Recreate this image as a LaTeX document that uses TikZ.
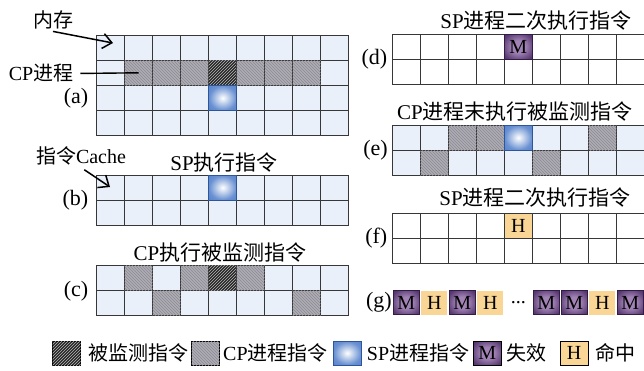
\documentclass[tikz,border=0pt]{standalone}
\usepackage{fontspec}
\setmainfont{Liberation Serif}
\newfontfamily\cjk{Noto Sans CJK SC}
\usetikzlibrary{patterns,arrows.meta}
\newcommand\zhtext[1]{{\cjk #1}}
\definecolor{memfill}{RGB}{234,240,249}
\definecolor{cpgray}{RGB}{174,172,180}
\definecolor{mondark}{RGB}{38,38,38}
\definecolor{gridline}{RGB}{55,55,55}
\definecolor{spblue}{RGB}{80,126,202}
\definecolor{spedge}{RGB}{45,85,155}
\definecolor{mpurple}{RGB}{72,40,98}
\definecolor{mlight}{RGB}{160,130,180}
\definecolor{horange}{RGB}{250,214,150}
\pgfdeclareradialshading{spshade}{\pgfpoint{0bp}{0bp}}{color(0bp)=(white); color(7bp)=(spblue!25); color(24bp)=(spblue!85); color(40bp)=(spblue); color(50bp)=(spblue)}
\pgfdeclareradialshading{mshade}{\pgfpoint{0bp}{0bp}}{color(0bp)=(mlight); color(12bp)=(mlight); color(30bp)=(mpurple!80!mlight); color(42bp)=(mpurple); color(50bp)=(mpurple)}
\tikzset{
  cell/.style={draw=gridline, line width=1pt, minimum width=28pt, minimum height=25.2pt,
    inner sep=0pt, outer sep=0pt, anchor=north west},
  memcell/.style={cell, fill=memfill},
  whitecell/.style={cell, fill=white},
  cpcell/.style={fill=cpgray, postaction={pattern=north west lines, pattern color=cpgray!80!black}},
  moncell/.style={fill=mondark, postaction={pattern=north east lines, pattern color=gray!55}},
  spcell/.style={shading=spshade, draw=spedge},
  mcell/.style={shading=mshade, draw=mpurple!70!black,
    font=\fontsize{20}{22}\selectfont},
  hcell/.style={fill=horange, font=\fontsize{20}{22}\selectfont},
  gcell/.style={minimum width=26pt, minimum height=24pt, inner sep=0pt, line width=0.8pt},
  legbox/.style={minimum width=28pt, minimum height=24pt, inner sep=0pt, draw=black, line width=0.8pt,
    font=\fontsize{20}{22}\selectfont},
  legtext/.style={anchor=west, inner sep=0pt, font=\fontsize{20}{24}\selectfont},
  title/.style={inner sep=0pt, font=\fontsize{21}{24}\selectfont},
  sublabel/.style={anchor=east, inner sep=0pt, font=\fontsize{22}{24}\selectfont},
  annot/.style={inner sep=2pt, font=\fontsize{20}{24}\selectfont},
  arr/.style={line width=1.5pt, -{Straight Barb[length=9pt,width=15pt,line width=1.5pt]}},
}
\newcommand\mkgrid[5]{%
  \foreach \r in {1,...,#4}{\foreach \c in {1,...,9}{%
    \node[#5] (#1\r\c) at ({#2+28*(\c-1)},{#3+25.2*(\r-1)}) {};}}}
\newcommand\markcell[3]{\node[cell,#2] (#1) at (#3.north west) {};}
\begin{document}
\begin{tikzpicture}[x=1pt,y=-1pt]
\useasboundingbox[fill=white] (0,0) rectangle (644,370);
% ---- (a) memory ----
\mkgrid{a}{96.7}{35}{4}{memcell}
\markcell{acp1}{cpcell}{a22}
\markcell{acp2}{cpcell}{a23}
\markcell{acp3}{cpcell}{a24}
\markcell{amon}{moncell}{a25}
\markcell{acp4}{cpcell}{a26}
\markcell{acp5}{cpcell}{a27}
\markcell{acp6}{cpcell}{a28}
\markcell{asp}{spcell}{a35}
\node[sublabel] (la) at (88.5,98.5) {(a)};
\node[annot] (mem) at (53,20) {\zhtext{内存}};
\coordinate (memtip) at (113,43);
\draw[arr] (mem.south) -- (memtip);
\node[annot, anchor=center] (cpl) at (41,73.5) {CP\zhtext{进程}};
\draw[line width=1.4pt, shorten <=5pt] (cpl.east) -- (acp1.center);
% ---- (b) cache ----
\mkgrid{b}{96.7}{175}{2}{memcell}
\markcell{bsp}{spcell}{b15}
\node[sublabel] (lb) at (88.5,200.5) {(b)};
\node[title] (tb) at (224,163) {SP\zhtext{执行指令}};
\node[annot] (cache) at (81,156) {\zhtext{指令}Cache};
\coordinate (cachetip) at (110,187);
\draw[arr, shorten <=4pt] (cache.south) -- (cachetip);
% ---- (c) ----
\mkgrid{c}{96.7}{265}{2}{memcell}
\markcell{ccp1}{cpcell}{c12}
\markcell{ccp2}{cpcell}{c14}
\markcell{cmon}{moncell}{c15}
\markcell{ccp3}{cpcell}{c16}
\markcell{ccp4}{cpcell}{c23}
\markcell{ccp5}{cpcell}{c28}
\node[sublabel] (lc) at (88.5,291) {(c)};
\node[title] (tc) at (220,253) {CP\zhtext{执行被监测指令}};
% ---- (d) ----
\mkgrid{d}{392.3}{34}{2}{whitecell}
\node[cell,mcell] (dm) at (d15.north west) {M};
\node[sublabel] (ld) at (387.5,59) {(d)};
\node[title] (td) at (536,21) {SP\zhtext{进程二次执行指令}};
% ---- (e) ----
\mkgrid{e}{392.3}{125}{2}{memcell}
\markcell{ecp1}{cpcell}{e13}
\markcell{ecp2}{cpcell}{e14}
\markcell{esp}{spcell}{e15}
\markcell{ecp3}{cpcell}{e18}
\markcell{ecp4}{cpcell}{e22}
\markcell{ecp5}{cpcell}{e26}
\node[sublabel] (le) at (388,150) {(e)};
\node[title] (te) at (515,112) {CP\zhtext{进程末执行被监测指令}};
% ---- (f) ----
\mkgrid{f}{392.3}{213}{2}{whitecell}
\node[cell,hcell] (fh) at (f15.north west) {H};
\node[sublabel] (lf) at (387.5,238) {(f)};
\node[title] (tf) at (535,198) {SP\zhtext{进程二次执行指令}};
% ---- (g) ----
\node[sublabel] (lg) at (392,302.5) {(g)};
\node[gcell,mcell] (g1) at (406.3,302.5) {M};
\node[gcell,hcell] (g2) at (434.3,302.5) {H};
\node[gcell,mcell] (g3) at (462.3,302.5) {M};
\node[gcell,hcell] (g4) at (490.3,302.5) {H};
\node[gcell,fill=white,font=\fontsize{20}{22}\selectfont] (g5) at (518.3,302.5) {...};
\node[gcell,mcell] (g6) at (546.3,302.5) {M};
\node[gcell,mcell] (g7) at (574.3,302.5) {M};
\node[gcell,hcell] (g8) at (602.3,302.5) {H};
\node[gcell,mcell] (g9) at (630.3,302.5) {M};
% ---- legend ----
\node[legbox,moncell] (k1) at (66.7,353) {};
\node[legtext] (t1) at (88,353) {\zhtext{被监测指令}};
\node[legbox,cpcell] (k2) at (205.5,353) {};
\node[legtext] (t2) at (223,353) {CP\zhtext{进程指令}};
\node[legbox,spcell] (k3) at (347.3,353) {};
\node[legtext] (t3) at (366.7,353) {SP\zhtext{进程指令}};
\node[legbox,mcell,draw=black] (k4) at (487.3,353) {M};
\node[legtext] (t4) at (506.7,353) {\zhtext{失效}};
\node[legbox,hcell] (k5) at (574,353) {H};
\node[legtext] (t5) at (595,353) {\zhtext{命中}};
\end{tikzpicture}
\end{document}
